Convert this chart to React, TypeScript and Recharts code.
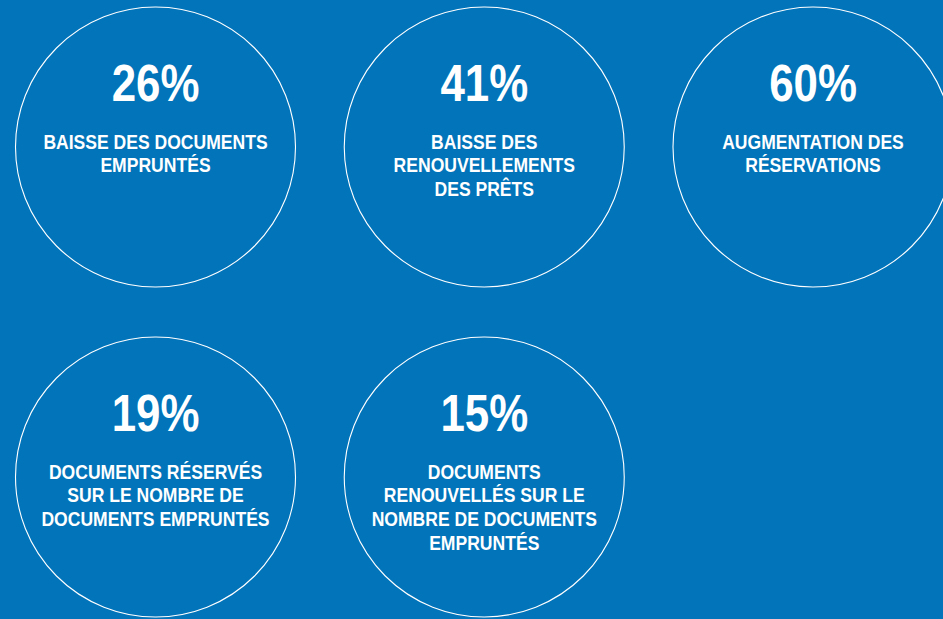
import { ScatterChart, Scatter, XAxis, YAxis } from "recharts";

const percents = [26, 41, 60, 19, 15];
const labels = [
  ["BAISSE DES DOCUMENTS", "EMPRUNTÉS"],
  ["BAISSE DES", "RENOUVELLEMENTS", "DES PRÊTS"],
  ["AUGMENTATION DES", "RÉSERVATIONS"],
  ["DOCUMENTS RÉSERVÉS", "SUR LE NOMBRE DE", "DOCUMENTS EMPRUNTÉS"],
  ["DOCUMENTS", "RENOUVELLÉS SUR LE", "NOMBRE DE DOCUMENTS", "EMPRUNTÉS"],
];

const COLS = 3;
const BG = "#0274BA";
// no condensed face installed, so squeeze Liberation Sans horizontally
const FONT = "'Liberation Sans', Arial, sans-serif";

const data = percents.map((p, i) => ({
  col: i % COLS,
  row: Math.floor(i / COLS),
  value: p,
  lines: labels[i],
}));

const StatBubble = (props: any) => {
  const { cx, cy, payload } = props;
  if (cx == null || cy == null) return null;
  return (
    <g>
      <circle cx={cx} cy={cy} r={140} fill="none" stroke="#ffffff" strokeWidth={1.1} />
      <g transform={`translate(${cx} ${cy - 46}) scale(0.86 1)`}>
        <text
          x={0}
          y={0}
          textAnchor="middle"
          fill="#ffffff"
          fontFamily={FONT}
          fontWeight={700}
          fontSize={51}
        >
          {`${payload.value}%`}
        </text>
      </g>
      {payload.lines.map((line: string, j: number) => (
        <g key={j} transform={`translate(${cx} ${cy + 1.5 + j * 23.8}) scale(0.9 1)`}>
          <text
            x={0}
            y={0}
            textAnchor="middle"
            fill="#ffffff"
            fontFamily={FONT}
            fontWeight={700}
            fontSize={19.5}
          >
            {line}
          </text>
        </g>
      ))}
    </g>
  );
};

export default function App() {
  return (
    <div
      style={{
        position: "fixed",
        left: 0,
        top: 0,
        width: 943,
        height: 619,
        background: BG,
        overflow: "hidden",
      }}
    >
      <ScatterChart
        width={943}
        height={619}
        margin={{ top: 147, right: 130, bottom: 142, left: 155.5 }}
      >
        <XAxis type="number" dataKey="col" domain={[0, 2]} hide />
        <YAxis type="number" dataKey="row" domain={[0, 1]} reversed hide />
        <Scatter data={data} shape={StatBubble} isAnimationActive={false} />
      </ScatterChart>
    </div>
  );
}
